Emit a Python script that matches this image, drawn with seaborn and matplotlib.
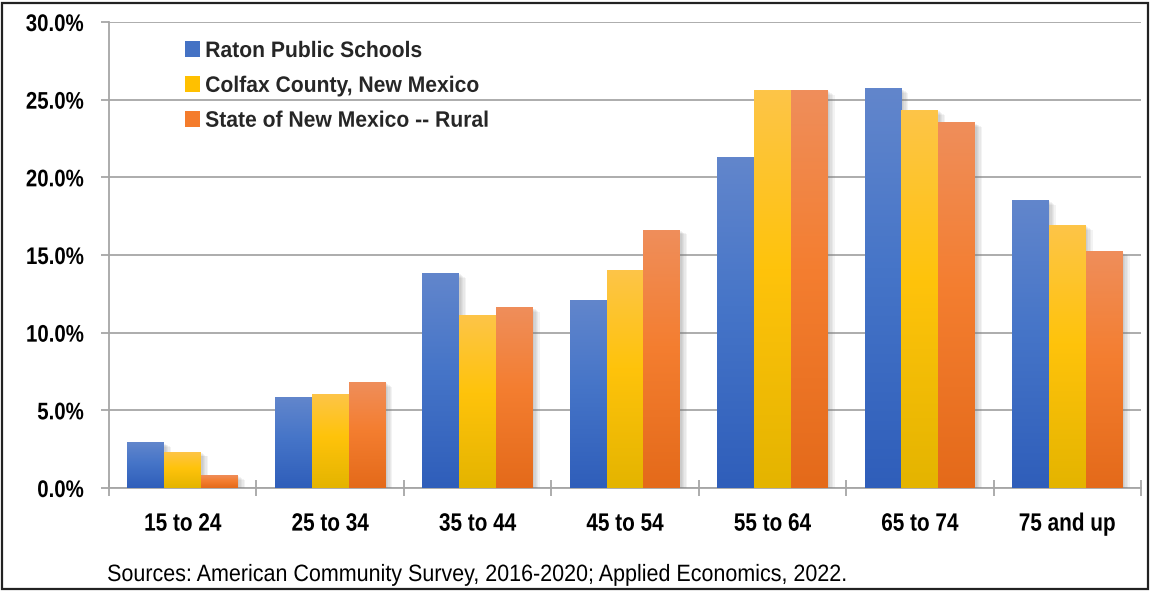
import numpy as np
import pandas as pd
import matplotlib
matplotlib.use("Agg")
import matplotlib.pyplot as plt
import matplotlib.patheffects as pe
from matplotlib.patches import Rectangle, Patch
from matplotlib.transforms import Affine2D
from matplotlib.colors import LinearSegmentedColormap
from matplotlib.ticker import MultipleLocator, FuncFormatter, FixedLocator
import seaborn as sns

# Share of adults by age group (percent)
age_groups = ["15 to 24", "25 to 34", "35 to 44", "45 to 54", "55 to 64", "65 to 74", "75 and up"]
series_names = ["Raton Public Schools", "Colfax County, New Mexico", "State of New Mexico -- Rural"]
raton = [2.9, 5.8, 13.8, 12.1, 21.3, 25.7, 18.5]
colfax = [2.3, 6.0, 11.1, 14.0, 25.6, 24.3, 16.9]
nm_rural = [0.8, 6.8, 11.6, 16.6, 25.6, 23.5, 15.2]
source_note = "Sources: American Community Survey, 2016-2020; Applied Economics, 2022."

base_colors = ["#4472C4", "#FFC000", "#F47C2C"]
# (bottom, middle, top) shades for the vertical gradient fill
gradients = [
    ("#2F5EBA", "#4675C8", "#6286CC"),
    ("#E4B400", "#FFC30B", "#FDC548"),
    ("#E46A1A", "#F47E30", "#EF8E5B"),
]

df = pd.DataFrame({
    "Age": age_groups * 3,
    "Share": raton + colfax + nm_rural,
    "Series": [s for s in series_names for _ in age_groups],
})


class Condense(pe.AbstractPathEffect):
    """Squeeze a text path horizontally to give a narrow typeface look."""

    def __init__(self, sx, anchor="center"):
        super().__init__()
        self.sx = sx
        self.anchor = anchor

    def draw_path(self, renderer, gc, tpath, affine, rgbFace=None):
        ext = tpath.get_extents(affine)
        if self.anchor == "center":
            x0 = 0.5 * (ext.x0 + ext.x1)
        elif self.anchor == "right":
            x0 = ext.x1
        else:
            x0 = ext.x0
        squeeze = Affine2D().translate(-x0, 0).scale(self.sx, 1).translate(x0, 0)
        renderer.draw_path(gc, tpath, affine + squeeze, rgbFace)


sns.set_theme(style="white")
plt.rcParams["font.family"] = ["Liberation Sans", "DejaVu Sans"]

W, H = 1151, 591
fig = plt.figure(figsize=(W / 100, H / 100), dpi=100)
ax = fig.add_axes([109 / W, 1 - 488 / H, (1141 - 109) / W, (488 - 22) / H])

sns.barplot(data=df, x="Age", y="Share", hue="Series", order=age_groups,
            hue_order=series_names, palette=base_colors, saturation=1,
            width=0.75, dodge=True, ax=ax, legend=False, zorder=3,
            linewidth=0, errorbar=None)

# soft drop shadow built from stacked translucent offsets
shadow = [pe.SimplePatchShadow(offset=(d, -d * 0.6), shadow_rgbFace="#7a7a7a", alpha=0.09)
          for d in (1, 2, 3, 4, 5)]

grad = np.linspace(0, 1, 256).reshape(-1, 1)
bars = [p for p in ax.patches if isinstance(p, Rectangle) and p.get_height() > 0]
for p in bars:
    fc = matplotlib.colors.to_hex(p.get_facecolor())
    idx = [c.lower() for c in base_colors].index(fc.lower())
    lo, mid, hi = gradients[idx]
    cmap = LinearSegmentedColormap.from_list("g", [(0, lo), (0.55, mid), (1, hi)])
    p.set_path_effects(shadow + [pe.Normal()])
    x0, y0, w, h = p.get_x(), p.get_y(), p.get_width(), p.get_height()
    ax.imshow(grad, extent=(x0, x0 + w, y0, y0 + h), origin="lower", cmap=cmap,
              aspect="auto", zorder=3.5, interpolation="bilinear")

ax.set_xlim(-0.5, len(age_groups) - 0.5)
ax.set_ylim(0, 30)

grid_c = "#A6A6A6"
ax.yaxis.set_major_locator(MultipleLocator(5))
ax.yaxis.set_major_formatter(FuncFormatter(lambda v, _: f"{v:.1f}%"))
ax.grid(axis="y", color=grid_c, linewidth=1.3, zorder=0)
ax.set_axisbelow(True)

for s in ("top", "right"):
    ax.spines[s].set_visible(False)
for s in ("left", "bottom"):
    ax.spines[s].set_color(grid_c)
    ax.spines[s].set_linewidth(1.3)

ax.xaxis.set_minor_locator(FixedLocator(np.arange(-0.5, len(age_groups), 1.0)))
ax.tick_params(axis="x", which="major", length=0, pad=17)
ax.tick_params(axis="x", which="minor", length=11, direction="inout", color=grid_c, width=1.3, bottom=True)
ax.tick_params(axis="y", which="major", length=6, direction="out", color=grid_c, width=1.3,
               pad=12, left=True)
for lab in ax.get_xticklabels():
    lab.set_fontsize(18)
    lab.set_fontweight("bold")
    lab.set_color("black")
    lab.set_path_effects([Condense(0.83, "center")])
for lab in ax.get_yticklabels():
    lab.set_fontsize(17.3)
    lab.set_fontweight("bold")
    lab.set_color("black")
    lab.set_path_effects([Condense(0.85, "right")])
ax.set_xlabel("")
ax.set_ylabel("")

# white panel behind the legend hides the gridlines there
fig.add_artist(Rectangle((135 / W, 1 - 140 / H), (540 - 135) / W, (140 - 30) / H,
                         transform=fig.transFigure, facecolor="white", edgecolor="none",
                         zorder=0.5))
ax.set_zorder(1)
ax.patch.set_visible(False)

handles = [Patch(facecolor=c, edgecolor="none") for c in base_colors]
leg = fig.legend(handles, series_names, loc="upper left", bbox_to_anchor=(185 / W, 1 - 41 / H),
                 frameon=False, handlelength=0.68, handleheight=0.7, handletextpad=0.22,
                 labelspacing=0.62, borderpad=0, borderaxespad=0,
                 prop={"family": ["Liberation Sans"], "weight": "bold", "size": 16.1})
for t in leg.get_texts():
    t.set_path_effects([Condense(0.944, "left")])

src = fig.text(107 / W, 1 - 575 / H, source_note, ha="left", va="center", color="black",
               fontsize=17)
src.set_path_effects([Condense(0.91, "left")])

# outer frame
fig.add_artist(Rectangle((2 / W, 2 / H), (W - 5) / W, (H - 5) / H, transform=fig.transFigure,
                         facecolor="none", edgecolor="#222222", linewidth=1.6))

fig.savefig("out.png", dpi=100, facecolor="white")
